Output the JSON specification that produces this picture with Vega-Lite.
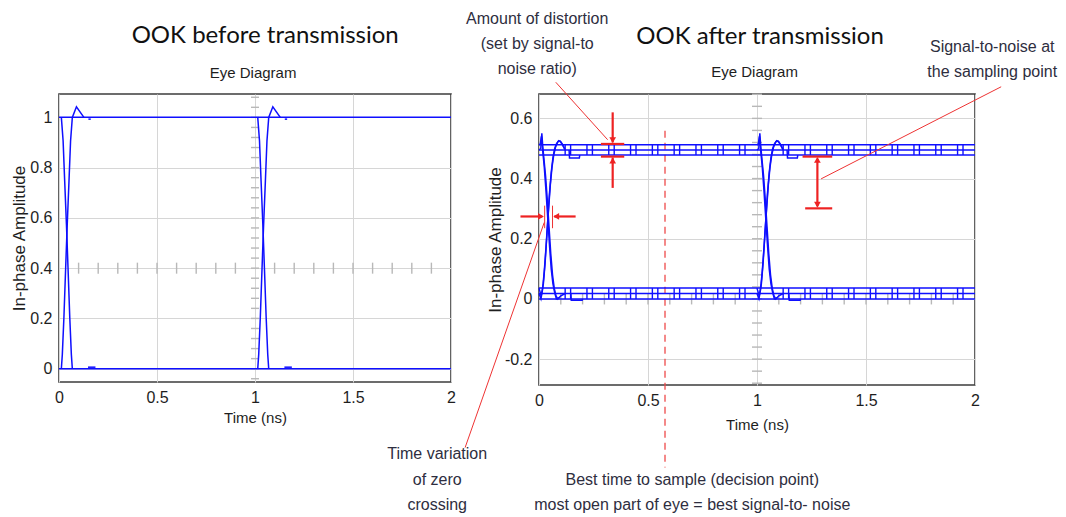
{
  "$schema": "https://vega.github.io/schema/vega-lite/v6.json",
  "background": "white",
  "padding": {"left": 9, "top": 10, "right": 0, "bottom": 0},
  "autosize": {"type": "pad"},
  "bounds": "flush",
  "spacing": 88,
  "config": {
    "view": {"stroke": "#3c3c3c", "strokeWidth": 1.6},
    "axis": {
      "labelFont": "Liberation Sans, Arial, sans-serif",
      "labelFontSize": 16, "labelColor": "#1e1e1e", "labelPadding": 7,
      "ticks": false, "tickSize": 0, "domain": false, "grid": true,
      "gridColor": "#d6d6d6", "gridWidth": 1,
      "titleFont": "Liberation Sans, Arial, sans-serif",
      "titleFontSize": 15, "titleFontWeight": "normal", "titleColor": "#1e1e1e",
      "labelFlush": false, "labelOverlap": false
    },
    "axisY": {"titleFont": "Liberation Sans, Arial, sans-serif", "titleFontSize": 17, "titleBaseline": "middle", "titleAngle": 270, "titleAlign": "center"}
  },
  "datasets": {
    "tickYL": [{"x":1,"y":-0.04},{"x":1,"y":0},{"x":1,"y":0.04},{"x":1,"y":0.08},{"x":1,"y":0.12},{"x":1,"y":0.16},{"x":1,"y":0.2},{"x":1,"y":0.24},{"x":1,"y":0.28},{"x":1,"y":0.32},{"x":1,"y":0.36},{"x":1,"y":0.4},{"x":1,"y":0.44},{"x":1,"y":0.48},{"x":1,"y":0.52},{"x":1,"y":0.56},{"x":1,"y":0.6},{"x":1,"y":0.64},{"x":1,"y":0.68},{"x":1,"y":0.72},{"x":1,"y":0.76},{"x":1,"y":0.8},{"x":1,"y":0.84},{"x":1,"y":0.88},{"x":1,"y":0.92},{"x":1,"y":0.96},{"x":1,"y":1},{"x":1,"y":1.04},{"x":1,"y":1.08}],
    "tickXL": [{"x":0.1,"y":0.4},{"x":0.2,"y":0.4},{"x":0.3,"y":0.4},{"x":0.4,"y":0.4},{"x":0.5,"y":0.4},{"x":0.6,"y":0.4},{"x":0.7,"y":0.4},{"x":0.8,"y":0.4},{"x":0.9,"y":0.4},{"x":1.1,"y":0.4},{"x":1.2,"y":0.4},{"x":1.3,"y":0.4},{"x":1.4,"y":0.4},{"x":1.5,"y":0.4},{"x":1.6,"y":0.4},{"x":1.7,"y":0.4},{"x":1.8,"y":0.4},{"x":1.9,"y":0.4}],
    "tickYR": [{"x":1,"y":-0.28},{"x":1,"y":-0.24},{"x":1,"y":-0.2},{"x":1,"y":-0.16},{"x":1,"y":-0.12},{"x":1,"y":-0.08},{"x":1,"y":-0.04},{"x":1,"y":0},{"x":1,"y":0.04},{"x":1,"y":0.08},{"x":1,"y":0.12},{"x":1,"y":0.16},{"x":1,"y":0.2},{"x":1,"y":0.24},{"x":1,"y":0.28},{"x":1,"y":0.32},{"x":1,"y":0.36},{"x":1,"y":0.4},{"x":1,"y":0.44},{"x":1,"y":0.48},{"x":1,"y":0.52},{"x":1,"y":0.56},{"x":1,"y":0.6},{"x":1,"y":0.64},{"x":1,"y":0.68}],
    "tickXR": [{"x":0.1,"y":0},{"x":0.2,"y":0},{"x":0.3,"y":0},{"x":0.4,"y":0},{"x":0.5,"y":0},{"x":0.6,"y":0},{"x":0.7,"y":0},{"x":0.8,"y":0},{"x":0.9,"y":0},{"x":1.1,"y":0},{"x":1.2,"y":0},{"x":1.3,"y":0},{"x":1.4,"y":0},{"x":1.5,"y":0},{"x":1.6,"y":0},{"x":1.7,"y":0},{"x":1.8,"y":0},{"x":1.9,"y":0}],
    "sigL": [
      {"s":"a","x":0,"y":1},{"s":"a","x":2,"y":1},
      {"s":"b","x":0,"y":0},{"s":"b","x":2,"y":0},
      {"s":"f1","x":0.012,"y":1},{"s":"f1","x":0.021,"y":0.906},{"s":"f1","x":0.029,"y":0.747},{"s":"f1","x":0.038,"y":0.574},{"s":"f1","x":0.046,"y":0.402},{"s":"f1","x":0.055,"y":0.203},{"s":"f1","x":0.063,"y":0.057},{"s":"f1","x":0.068,"y":0},
      {"s":"r1","x":0.012,"y":0},{"s":"r1","x":0.017,"y":0.057},{"s":"r1","x":0.025,"y":0.203},{"s":"r1","x":0.034,"y":0.402},{"s":"r1","x":0.042,"y":0.574},{"s":"r1","x":0.051,"y":0.747},{"s":"r1","x":0.059,"y":0.906},{"s":"r1","x":0.068,"y":1},{"s":"r1","x":0.089,"y":1.042},{"s":"r1","x":0.127,"y":1},
      {"s":"d1","x":0.15,"y":0.993},{"s":"d1","x":0.162,"y":0.993},
      {"s":"e1","x":0.148,"y":0.006},{"s":"e1","x":0.186,"y":0.006},
      {"s":"f2","x":1.014,"y":1},{"s":"f2","x":1.023,"y":0.906},{"s":"f2","x":1.031,"y":0.747},{"s":"f2","x":1.04,"y":0.574},{"s":"f2","x":1.048,"y":0.402},{"s":"f2","x":1.057,"y":0.203},{"s":"f2","x":1.065,"y":0.057},{"s":"f2","x":1.07,"y":0},
      {"s":"r2","x":1.014,"y":0},{"s":"r2","x":1.019,"y":0.057},{"s":"r2","x":1.027,"y":0.203},{"s":"r2","x":1.036,"y":0.402},{"s":"r2","x":1.044,"y":0.574},{"s":"r2","x":1.053,"y":0.747},{"s":"r2","x":1.061,"y":0.906},{"s":"r2","x":1.07,"y":1},{"s":"r2","x":1.091,"y":1.042},{"s":"r2","x":1.129,"y":1},
      {"s":"d2","x":1.152,"y":0.993},{"s":"d2","x":1.164,"y":0.993},
      {"s":"e2","x":1.15,"y":0.006},{"s":"e2","x":1.188,"y":0.006}
    ],
    "sigR": [
      {"s":"t1","x":0,"y":0.512},{"s":"t1","x":2,"y":0.512},
      {"s":"t2","x":0,"y":0.495},{"s":"t2","x":2,"y":0.495},
      {"s":"t3","x":0,"y":0.478},{"s":"t3","x":2,"y":0.478},
      {"s":"b1","x":0,"y":0.036},{"s":"b1","x":2,"y":0.036},
      {"s":"b2","x":0,"y":0.018},{"s":"b2","x":2,"y":0.018},
      {"s":"b3","x":0,"y":0},{"s":"b3","x":2,"y":0},
      {"s":"fa1","x":0,"y":0.495},{"s":"fa1","x":0.008,"y":0.5},{"s":"fa1","x":0.013,"y":0.55},{"s":"fa1","x":0.017,"y":0.51},{"s":"fa1","x":0.022,"y":0.47},{"s":"fa1","x":0.03,"y":0.41},{"s":"fa1","x":0.038,"y":0.33},{"s":"fa1","x":0.046,"y":0.24},{"s":"fa1","x":0.054,"y":0.15},{"s":"fa1","x":0.062,"y":0.08},{"s":"fa1","x":0.07,"y":0.035},{"s":"fa1","x":0.078,"y":0.01},{"s":"fa1","x":0.086,"y":0},{"s":"fa1","x":0.1,"y":0.01},{"s":"fa1","x":0.12,"y":0.018},
      {"s":"fb1","x":0,"y":0.512},{"s":"fb1","x":0.006,"y":0.515},{"s":"fb1","x":0.011,"y":0.54},{"s":"fb1","x":0.016,"y":0.5},{"s":"fb1","x":0.024,"y":0.44},{"s":"fb1","x":0.032,"y":0.36},{"s":"fb1","x":0.04,"y":0.27},{"s":"fb1","x":0.048,"y":0.18},{"s":"fb1","x":0.056,"y":0.1},{"s":"fb1","x":0.064,"y":0.05},{"s":"fb1","x":0.072,"y":0.02},{"s":"fb1","x":0.08,"y":0},{"s":"fb1","x":0.095,"y":0.005},
      {"s":"ra1","x":0,"y":0.018},{"s":"ra1","x":0.009,"y":0},{"s":"ra1","x":0.016,"y":0.03},{"s":"ra1","x":0.024,"y":0.09},{"s":"ra1","x":0.032,"y":0.17},{"s":"ra1","x":0.04,"y":0.26},{"s":"ra1","x":0.048,"y":0.35},{"s":"ra1","x":0.056,"y":0.42},{"s":"ra1","x":0.064,"y":0.47},{"s":"ra1","x":0.072,"y":0.5},{"s":"ra1","x":0.08,"y":0.515},{"s":"ra1","x":0.09,"y":0.526},{"s":"ra1","x":0.1,"y":0.522},{"s":"ra1","x":0.11,"y":0.51},{"s":"ra1","x":0.12,"y":0.495},
      {"s":"rb1","x":0,"y":0.036},{"s":"rb1","x":0.01,"y":0.01},{"s":"rb1","x":0.02,"y":0.05},{"s":"rb1","x":0.028,"y":0.12},{"s":"rb1","x":0.036,"y":0.21},{"s":"rb1","x":0.044,"y":0.3},{"s":"rb1","x":0.052,"y":0.38},{"s":"rb1","x":0.06,"y":0.44},{"s":"rb1","x":0.068,"y":0.48},{"s":"rb1","x":0.076,"y":0.505},{"s":"rb1","x":0.086,"y":0.522},{"s":"rb1","x":0.096,"y":0.525},{"s":"rb1","x":0.106,"y":0.515},{"s":"rb1","x":0.116,"y":0.5},
      {"s":"et1","x":0.138,"y":0.495},{"s":"et1","x":0.14,"y":0.468},{"s":"et1","x":0.185,"y":0.468},{"s":"et1","x":0.187,"y":0.478},
      {"s":"eb1","x":0.146,"y":0.018},{"s":"eb1","x":0.148,"y":-0.004},{"s":"eb1","x":0.198,"y":-0.004},{"s":"eb1","x":0.2,"y":0},
      {"s":"fa2","x":1,"y":0.495},{"s":"fa2","x":1.008,"y":0.5},{"s":"fa2","x":1.013,"y":0.55},{"s":"fa2","x":1.017,"y":0.51},{"s":"fa2","x":1.022,"y":0.47},{"s":"fa2","x":1.03,"y":0.41},{"s":"fa2","x":1.038,"y":0.33},{"s":"fa2","x":1.046,"y":0.24},{"s":"fa2","x":1.054,"y":0.15},{"s":"fa2","x":1.062,"y":0.08},{"s":"fa2","x":1.07,"y":0.035},{"s":"fa2","x":1.078,"y":0.01},{"s":"fa2","x":1.086,"y":0},{"s":"fa2","x":1.1,"y":0.01},{"s":"fa2","x":1.12,"y":0.018},
      {"s":"fb2","x":1,"y":0.512},{"s":"fb2","x":1.006,"y":0.515},{"s":"fb2","x":1.011,"y":0.54},{"s":"fb2","x":1.016,"y":0.5},{"s":"fb2","x":1.024,"y":0.44},{"s":"fb2","x":1.032,"y":0.36},{"s":"fb2","x":1.04,"y":0.27},{"s":"fb2","x":1.048,"y":0.18},{"s":"fb2","x":1.056,"y":0.1},{"s":"fb2","x":1.064,"y":0.05},{"s":"fb2","x":1.072,"y":0.02},{"s":"fb2","x":1.08,"y":0},{"s":"fb2","x":1.095,"y":0.005},
      {"s":"ra2","x":1,"y":0.018},{"s":"ra2","x":1.009,"y":0},{"s":"ra2","x":1.016,"y":0.03},{"s":"ra2","x":1.024,"y":0.09},{"s":"ra2","x":1.032,"y":0.17},{"s":"ra2","x":1.04,"y":0.26},{"s":"ra2","x":1.048,"y":0.35},{"s":"ra2","x":1.056,"y":0.42},{"s":"ra2","x":1.064,"y":0.47},{"s":"ra2","x":1.072,"y":0.5},{"s":"ra2","x":1.08,"y":0.515},{"s":"ra2","x":1.09,"y":0.526},{"s":"ra2","x":1.1,"y":0.522},{"s":"ra2","x":1.11,"y":0.51},{"s":"ra2","x":1.12,"y":0.495},
      {"s":"rb2","x":1,"y":0.036},{"s":"rb2","x":1.01,"y":0.01},{"s":"rb2","x":1.02,"y":0.05},{"s":"rb2","x":1.028,"y":0.12},{"s":"rb2","x":1.036,"y":0.21},{"s":"rb2","x":1.044,"y":0.3},{"s":"rb2","x":1.052,"y":0.38},{"s":"rb2","x":1.06,"y":0.44},{"s":"rb2","x":1.068,"y":0.48},{"s":"rb2","x":1.076,"y":0.505},{"s":"rb2","x":1.086,"y":0.522},{"s":"rb2","x":1.096,"y":0.525},{"s":"rb2","x":1.106,"y":0.515},{"s":"rb2","x":1.116,"y":0.5},
      {"s":"et2","x":1.138,"y":0.495},{"s":"et2","x":1.14,"y":0.468},{"s":"et2","x":1.185,"y":0.468},{"s":"et2","x":1.187,"y":0.478},
      {"s":"eb2","x":1.146,"y":0.018},{"s":"eb2","x":1.148,"y":-0.004},{"s":"eb2","x":1.198,"y":-0.004},{"s":"eb2","x":1.2,"y":0}
    ],
    "noise": [
      {"x":0.12,"y":0.478,"y2":0.512},{"x":0.145,"y":0.478,"y2":0.512},{"x":0.22,"y":0.478,"y2":0.512},{"x":0.245,"y":0.478,"y2":0.512},{"x":0.32,"y":0.478,"y2":0.512},{"x":0.345,"y":0.478,"y2":0.512},{"x":0.42,"y":0.478,"y2":0.512},{"x":0.445,"y":0.478,"y2":0.512},{"x":0.52,"y":0.478,"y2":0.512},{"x":0.545,"y":0.478,"y2":0.512},{"x":0.62,"y":0.478,"y2":0.512},{"x":0.645,"y":0.478,"y2":0.512},{"x":0.72,"y":0.478,"y2":0.512},{"x":0.745,"y":0.478,"y2":0.512},{"x":0.82,"y":0.478,"y2":0.512},{"x":0.845,"y":0.478,"y2":0.512},{"x":0.92,"y":0.478,"y2":0.512},{"x":0.945,"y":0.478,"y2":0.512},
      {"x":1.12,"y":0.478,"y2":0.512},{"x":1.145,"y":0.478,"y2":0.512},{"x":1.22,"y":0.478,"y2":0.512},{"x":1.245,"y":0.478,"y2":0.512},{"x":1.32,"y":0.478,"y2":0.512},{"x":1.345,"y":0.478,"y2":0.512},{"x":1.42,"y":0.478,"y2":0.512},{"x":1.445,"y":0.478,"y2":0.512},{"x":1.52,"y":0.478,"y2":0.512},{"x":1.545,"y":0.478,"y2":0.512},{"x":1.62,"y":0.478,"y2":0.512},{"x":1.645,"y":0.478,"y2":0.512},{"x":1.72,"y":0.478,"y2":0.512},{"x":1.745,"y":0.478,"y2":0.512},{"x":1.82,"y":0.478,"y2":0.512},{"x":1.845,"y":0.478,"y2":0.512},{"x":1.92,"y":0.478,"y2":0.512},{"x":1.945,"y":0.478,"y2":0.512},
      {"x":0.12,"y":0,"y2":0.036},{"x":0.145,"y":0,"y2":0.036},{"x":0.22,"y":0,"y2":0.036},{"x":0.245,"y":0,"y2":0.036},{"x":0.32,"y":0,"y2":0.036},{"x":0.345,"y":0,"y2":0.036},{"x":0.42,"y":0,"y2":0.036},{"x":0.445,"y":0,"y2":0.036},{"x":0.52,"y":0,"y2":0.036},{"x":0.545,"y":0,"y2":0.036},{"x":0.62,"y":0,"y2":0.036},{"x":0.645,"y":0,"y2":0.036},{"x":0.72,"y":0,"y2":0.036},{"x":0.745,"y":0,"y2":0.036},{"x":0.82,"y":0,"y2":0.036},{"x":0.845,"y":0,"y2":0.036},{"x":0.92,"y":0,"y2":0.036},{"x":0.945,"y":0,"y2":0.036},
      {"x":1.12,"y":0,"y2":0.036},{"x":1.145,"y":0,"y2":0.036},{"x":1.22,"y":0,"y2":0.036},{"x":1.245,"y":0,"y2":0.036},{"x":1.32,"y":0,"y2":0.036},{"x":1.345,"y":0,"y2":0.036},{"x":1.42,"y":0,"y2":0.036},{"x":1.445,"y":0,"y2":0.036},{"x":1.52,"y":0,"y2":0.036},{"x":1.545,"y":0,"y2":0.036},{"x":1.62,"y":0,"y2":0.036},{"x":1.645,"y":0,"y2":0.036},{"x":1.72,"y":0,"y2":0.036},{"x":1.745,"y":0,"y2":0.036},{"x":1.82,"y":0,"y2":0.036},{"x":1.845,"y":0,"y2":0.036},{"x":1.92,"y":0,"y2":0.036},{"x":1.945,"y":0,"y2":0.036}
    ],
    "redThick": [
      {"x":0.338,"x2":0.338,"y":0.62,"y2":0.52},
      {"x":0.338,"x2":0.338,"y":0.369,"y2":0.47},
      {"x":0.284,"x2":0.391,"y":0.515,"y2":0.515},
      {"x":0.284,"x2":0.391,"y":0.473,"y2":0.473},
      {"x":1.277,"x2":1.277,"y":0.466,"y2":0.308},
      {"x":1.209,"x2":1.345,"y":0.473,"y2":0.473},
      {"x":1.221,"x2":1.345,"y":0.301,"y2":0.301},
      {"x":-0.085,"x2":0.015,"y":0.274,"y2":0.274},
      {"x":0.168,"x2":0.07,"y":0.274,"y2":0.274}
    ],
    "redThin": [
      {"x":0.077,"x2":0.315,"y":0.72,"y2":0.529},
      {"x":1.294,"x2":2.12,"y":0.399,"y2":0.705},
      {"x":0.024,"x2":-0.339,"y":0.254,"y2":-0.494},
      {"x":0.026,"x2":0.026,"y":0.31,"y2":0.235},
      {"x":0.062,"x2":0.062,"y":0.31,"y2":0.235}
    ],
    "heads": [
      {"x":0.338,"y":0.528,"dir":"down"},
      {"x":0.338,"y":0.46,"dir":"up"},
      {"x":1.277,"y":0.462,"dir":"up"},
      {"x":1.277,"y":0.313,"dir":"down"},
      {"x":0.009,"y":0.274,"dir":"right"},
      {"x":0.079,"y":0.274,"dir":"left"}
    ],
    "dash": [{"x":0.578,"y":0.559,"y2":-0.56}],
    "headL": [
      {"k":"main","x":1.052,"y":1.323,"t":"OOK before transmission"},
      {"k":"sub","x":0.99,"y":1.177,"t":"Eye Diagram"}
    ],
    "headR": [
      {"k":"main","x":1.014,"y":0.87,"t":"OOK after transmission"},
      {"k":"sub","x":0.989,"y":0.754,"t":"Eye Diagram"}
    ],
    "notes": [
      {"x":-0.008,"y":0.93,"t":"Amount of distortion"},
      {"x":-0.008,"y":0.847,"t":"(set by signal-to"},
      {"x":-0.008,"y":0.764,"t":"noise ratio)"},
      {"x":2.079,"y":0.836,"t":"Signal-to-noise at"},
      {"x":2.079,"y":0.755,"t":"the sampling point"},
      {"x":-0.467,"y":-0.515,"t":"Time variation"},
      {"x":-0.467,"y":-0.601,"t":"of zero"},
      {"x":-0.467,"y":-0.684,"t":"crossing"},
      {"x":0.703,"y":-0.601,"t":"Best time to sample (decision point)"},
      {"x":0.703,"y":-0.684,"t":"most open part of eye = best signal-to- noise"}
    ]
  },
  "hconcat": [
    {
      "width": 392,
      "height": 288,
      "encoding": {
        "x": {"field": "x", "type": "quantitative", "scale": {"domain": [0, 2], "nice": false, "zero": false},
              "axis": {"values": [0, 0.5, 1, 1.5, 2], "format": "~g", "title": "Time (ns)", "titlePadding": 5}},
        "y": {"field": "y", "type": "quantitative", "scale": {"domain": [-0.053, 1.093], "nice": false, "zero": false},
              "axis": {"values": [0, 0.2, 0.4, 0.6, 0.8, 1], "format": "~g", "title": "In-phase Amplitude", "titleX": -40}}
      },
      "layer": [
        {"data": {"name": "tickYL"}, "mark": {"type": "tick", "orient": "horizontal", "size": 8, "thickness": 1.4, "color": "#b8b8b8", "opacity": 1}},
        {"data": {"name": "tickXL"}, "mark": {"type": "tick", "orient": "vertical", "size": 11, "thickness": 1.4, "color": "#b8b8b8", "opacity": 1}},
        {"data": {"name": "sigL"}, "mark": {"type": "line", "color": "#0f0fff", "strokeWidth": 1.5}, "encoding": {"detail": {"field": "s"}}},
        {"data": {"name": "headL"}, "transform": [{"filter": "datum.k == 'main'"}],
         "mark": {"type": "text", "font": "Lato, Open Sans, sans-serif", "fontSize": 24, "color": "#111111", "align": "center", "baseline": "middle"},
         "encoding": {"text": {"field": "t"}}},
        {"data": {"name": "headL"}, "transform": [{"filter": "datum.k == 'sub'"}],
         "mark": {"type": "text", "font": "Liberation Sans, Arial, sans-serif", "fontSize": 15, "color": "#1e1e1e", "align": "center", "baseline": "middle"},
         "encoding": {"text": {"field": "t"}}}
      ]
    },
    {
      "width": 436,
      "height": 291,
      "encoding": {
        "x": {"field": "x", "type": "quantitative", "scale": {"domain": [0, 2], "nice": false, "zero": false},
              "axis": {"values": [0, 0.5, 1, 1.5, 2], "format": "~g", "title": "Time (ns)", "titlePadding": 9}},
        "y": {"field": "y", "type": "quantitative", "scale": {"domain": [-0.286, 0.681], "nice": false, "zero": false},
              "axis": {"values": [-0.2, 0, 0.2, 0.4, 0.6], "format": "~g", "labelExpr": "replace(datum.label, '\u2212', '-')", "title": "In-phase Amplitude", "titleX": -44}}
      },
      "layer": [
        {"data": {"name": "tickYR"}, "mark": {"type": "tick", "orient": "horizontal", "size": 10, "thickness": 1.4, "color": "#b8b8b8", "opacity": 1}},
        {"data": {"name": "tickXR"}, "mark": {"type": "tick", "orient": "vertical", "size": 11, "thickness": 1.4, "color": "#b8b8b8", "opacity": 1}},
        {"data": {"name": "dash"}, "mark": {"type": "rule", "color": "#ef4a4a", "strokeWidth": 1.3, "strokeDash": [7, 5]}, "encoding": {"y2": {"field": "y2"}}},
        {"data": {"name": "noise"}, "mark": {"type": "rule", "color": "#0f0fff", "strokeWidth": 1.4}, "encoding": {"y2": {"field": "y2"}}},
        {"data": {"name": "sigR"}, "mark": {"type": "line", "color": "#0f0fff", "strokeWidth": 1.5}, "encoding": {"detail": {"field": "s"}}},
        {"data": {"name": "redThick"}, "mark": {"type": "rule", "color": "#ee2222", "strokeWidth": 2.2}, "encoding": {"x2": {"field": "x2"}, "y2": {"field": "y2"}}},
        {"data": {"name": "redThin"}, "mark": {"type": "rule", "color": "#ee3333", "strokeWidth": 1}, "encoding": {"x2": {"field": "x2"}, "y2": {"field": "y2"}}},
        {"data": {"name": "heads"}, "mark": {"type": "point", "filled": true, "size": 45, "color": "#ee2222", "opacity": 1, "strokeWidth": 0},
         "encoding": {"shape": {"field": "dir", "type": "nominal", "legend": null, "scale": {"domain": ["up", "down", "left", "right"], "range": ["triangle-up", "triangle-down", "triangle-left", "triangle-right"]}}}},
        {"data": {"name": "headR"}, "transform": [{"filter": "datum.k == 'main'"}],
         "mark": {"type": "text", "font": "Lato, Open Sans, sans-serif", "fontSize": 24, "color": "#111111", "align": "center", "baseline": "middle"},
         "encoding": {"text": {"field": "t"}}},
        {"data": {"name": "headR"}, "transform": [{"filter": "datum.k == 'sub'"}],
         "mark": {"type": "text", "font": "Liberation Sans, Arial, sans-serif", "fontSize": 15, "color": "#1e1e1e", "align": "center", "baseline": "middle"},
         "encoding": {"text": {"field": "t"}}},
        {"data": {"name": "notes"},
         "mark": {"type": "text", "font": "Liberation Sans, Arial, sans-serif", "fontSize": 16, "color": "#2e2e40", "align": "center", "baseline": "middle"},
         "encoding": {"text": {"field": "t"}}}
      ]
    }
  ]
}
